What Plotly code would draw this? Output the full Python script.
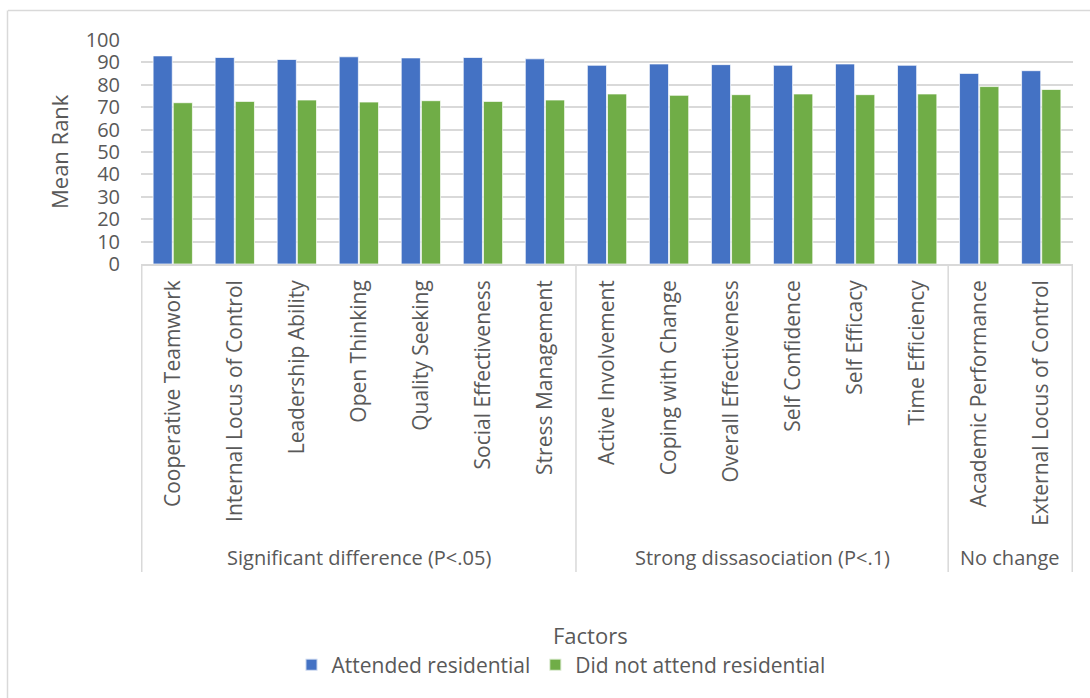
import plotly.graph_objects as go

# Factors and their grouping by significance
factors = [
    "Cooperative Teamwork", "Internal Locus of Control", "Leadership Ability",
    "Open Thinking", "Quality Seeking", "Social Effectiveness", "Stress Management",
    "Active Involvement", "Coping with Change", "Overall Effectiveness",
    "Self Confidence", "Self Efficacy", "Time Efficiency",
    "Academic Performance", "External Locus of Control",
]
groups = ["Significant difference (P<.05)", "Strong dissasociation (P<.1)", "No change"]
group_sizes = [7, 6, 2]

# Mean rank per factor
attended = [92.9, 92.2, 91.3, 92.5, 92.0, 92.2, 91.6,
            88.7, 89.3, 89.0, 88.7, 89.3, 88.7,
            85.1, 86.3]
not_attended = [72.0, 72.6, 73.2, 72.3, 72.9, 72.6, 73.2,
                75.9, 75.3, 75.6, 75.9, 75.6, 75.9,
                79.2, 77.9]

FONT = "Open Sans"
TXT = "#595959"
GRID = "#d9d9d9"

W, H = 1090, 698
ML, MR, MT, MB = 141, 17, 40, 434
PW, PH = W - ML - MR, H - MT - MB


def px_to_paper_y(py):
    return (H - MB - py) / PH


def px_to_paper_x(px):
    return (px - ML) / PW


fig = go.Figure()
fig.add_trace(go.Bar(
    x=factors, y=attended, name="Attended residential",
    marker=dict(color="#4472C4", line=dict(color="rgba(255,255,255,0.7)", width=1)),
))
fig.add_trace(go.Bar(
    x=factors, y=not_attended, name="Did not attend residential",
    marker=dict(color="#70AD47", line=dict(color="rgba(255,255,255,0.7)", width=1)),
))

shapes = []
# group dividers below the category axis
bounds = [-0.5]
for n in group_sizes:
    bounds.append(bounds[-1] + n)
for b in bounds:
    shapes.append(dict(type="line", xref="x", yref="paper",
                       x0=b, x1=b, y0=0, y1=px_to_paper_y(572),
                       line=dict(color=GRID, width=1.5)))
# chart frame (top and left edges)
shapes.append(dict(type="line", xref="paper", yref="paper",
                   x0=px_to_paper_x(8), x1=px_to_paper_x(1095),
                   y0=px_to_paper_y(10.5), y1=px_to_paper_y(10.5),
                   line=dict(color=GRID, width=1.5)))
shapes.append(dict(type="line", xref="paper", yref="paper",
                   x0=px_to_paper_x(7.5), x1=px_to_paper_x(7.5),
                   y0=px_to_paper_y(10.5), y1=px_to_paper_y(705),
                   line=dict(color=GRID, width=1.5)))

annotations = []
for i, g in enumerate(groups):
    center = (bounds[i] + bounds[i + 1]) / 2
    annotations.append(dict(x=center, xref="x", y=px_to_paper_y(557), yref="paper",
                            text=g, showarrow=False, yanchor="middle",
                            font=dict(family=FONT, size=20, color=TXT)))
annotations.append(dict(x=px_to_paper_x(590), xref="paper", y=px_to_paper_y(635), yref="paper",
                        text="Factors", showarrow=False, yanchor="middle",
                        font=dict(family=FONT, size=22, color=TXT)))
annotations.append(dict(x=px_to_paper_x(59), xref="paper", y=0.5, yref="paper",
                        text="Mean Rank", showarrow=False, textangle=-90,
                        xanchor="center", yanchor="middle",
                        font=dict(family=FONT, size=22, color=TXT)))

fig.update_layout(
    width=W, height=H,
    margin=dict(l=ML, r=MR, t=MT, b=MB, autoexpand=False),
    paper_bgcolor="white", plot_bgcolor="white",
    barmode="group", bargap=0.35, bargroupgap=0.05,
    font=dict(family=FONT, size=20, color=TXT),
    shapes=shapes, annotations=annotations,
    legend=dict(orientation="h", x=px_to_paper_x(561), xanchor="center",
                y=px_to_paper_y(665), yanchor="middle",
                font=dict(family=FONT, size=21, color=TXT),
                itemsizing="constant"),
    xaxis=dict(type="category", tickangle=-90, showline=True, linecolor=GRID, linewidth=1.5,
               ticks="", ticklabelstandoff=6, showgrid=False,
               tickfont=dict(family=FONT, size=21, color=TXT)),
    yaxis=dict(range=[0, 100], dtick=10, showgrid=True, gridcolor=GRID, gridwidth=1.5,
               zeroline=False, ticks="", ticklabelstandoff=20,
               tickfont=dict(family=FONT, size=20, color=TXT)),
)

fig.write_html("out.html")
